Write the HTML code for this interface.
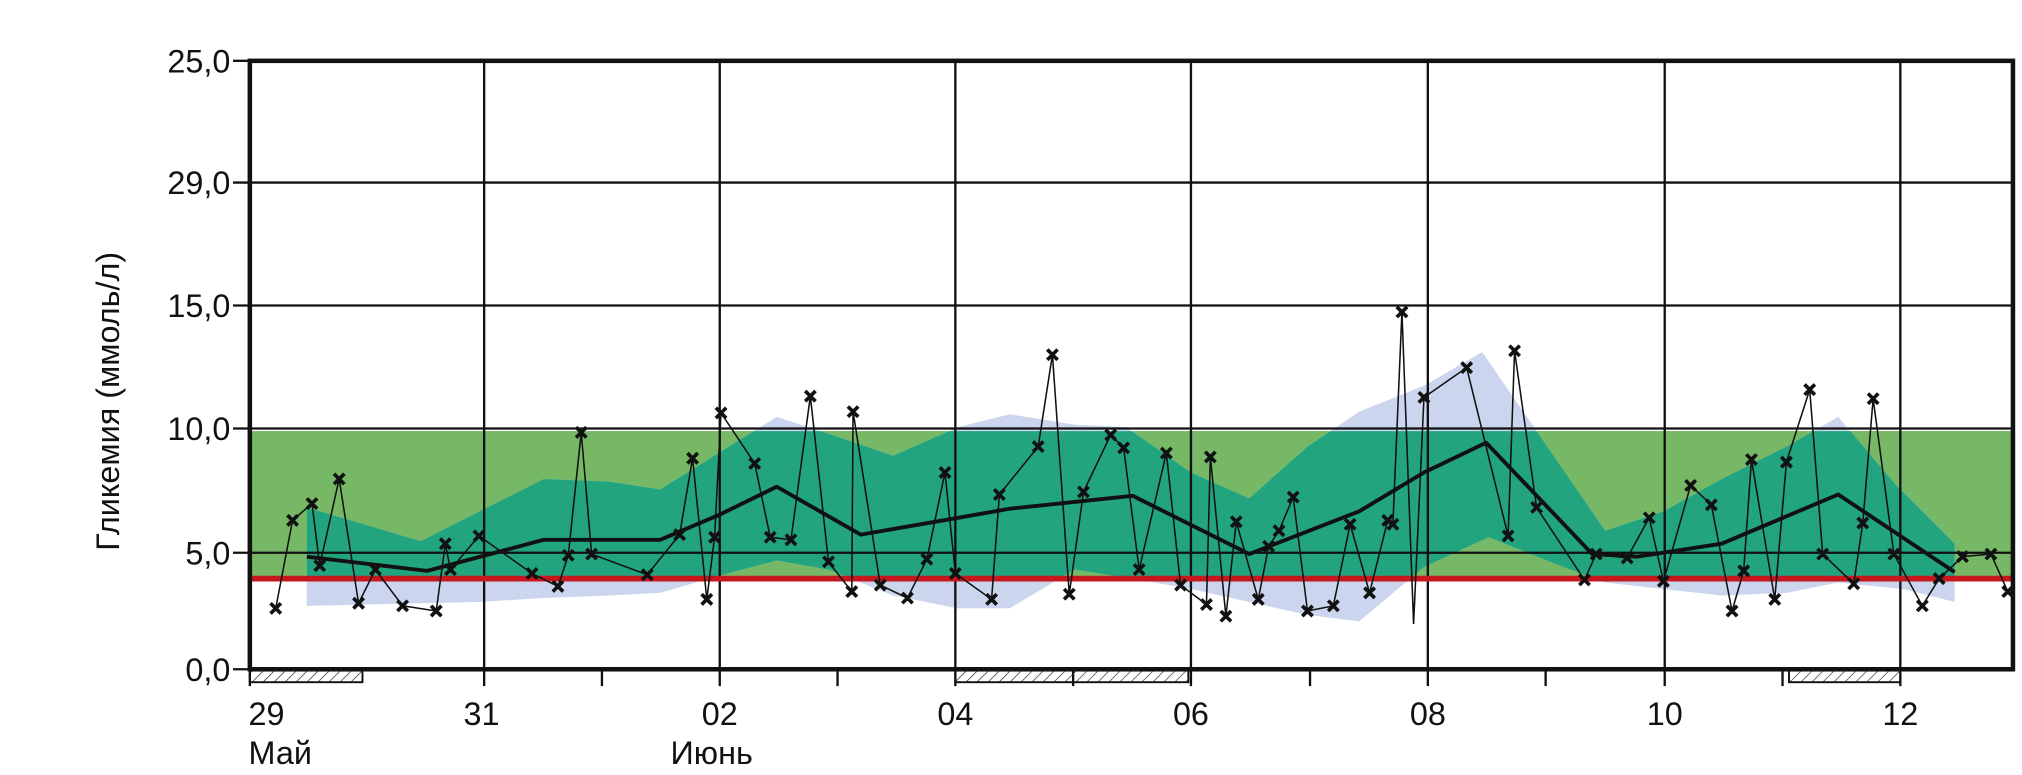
<!DOCTYPE html>
<html><head><meta charset="utf-8"><style>
html,body{margin:0;padding:0;background:#fff;}
svg{display:block;}
text{font-family:"Liberation Sans","DejaVu Sans",sans-serif;fill:#111;}
</style></head><body>
<svg width="2022" height="775" viewBox="0 0 2022 775" xmlns="http://www.w3.org/2000/svg">
<defs>
<pattern id="hatch" width="6" height="6" patternUnits="userSpaceOnUse" patternTransform="rotate(45)">
<line x1="0" y1="0" x2="0" y2="6" stroke="#222" stroke-width="1"/>
</pattern>
<clipPath id="gclip"><rect x="193" y="333" width="1362" height="114"/></clipPath>
</defs>
<g transform="scale(1.2945)">
<rect x="193" y="333" width="1362" height="114" fill="#77b866"/>
<polygon fill="#cbd6ee" points="237,392 325,418 420,370 470,372 510,378 555,350 600,322 640,335 690,352 740,330 780,320 830,328 870,330 920,365 965,385 1010,345 1050,318 1100,298 1145,272 1185,330 1240,410 1285,395 1330,370 1380,345 1420,322 1465,375 1510,420 1510,465 1470,455 1420,450 1380,458 1330,460 1285,455 1240,450 1200,435 1150,415 1100,438 1050,480 1010,475 965,465 920,455 875,447 830,440 780,470 740,470 690,460 640,440 600,433 555,445 510,458 470,460 420,462 370,465 325,466 237,468"/>
<g clip-path="url(#gclip)">
<polygon fill="#22a57f" points="237,392 325,418 420,370 470,372 510,378 555,350 600,322 640,335 690,352 740,330 780,320 830,328 870,330 920,365 965,385 1010,345 1050,318 1100,298 1145,272 1185,330 1240,410 1285,395 1330,370 1380,345 1420,322 1465,375 1510,420 1510,465 1470,455 1420,450 1380,458 1330,460 1285,455 1240,450 1200,435 1150,415 1100,438 1050,480 1010,475 965,465 920,455 875,447 830,440 780,470 740,470 690,460 640,440 600,433 555,445 510,458 470,460 420,462 370,465 325,466 237,468"/>
</g>
<g stroke="#111" stroke-width="1.8">
<line x1="180" y1="141" x2="1555" y2="141"/>
<line x1="180" y1="236" x2="1555" y2="236"/>
<line x1="180" y1="331" x2="1555" y2="331"/>
<line x1="180" y1="427" x2="1555" y2="427"/>
<line x1="180" y1="47" x2="193" y2="47"/>
<line x1="180" y1="517" x2="193" y2="517"/>
<line x1="374" y1="47" x2="374" y2="530"/>
<line x1="556" y1="47" x2="556" y2="530"/>
<line x1="738" y1="47" x2="738" y2="530"/>
<line x1="920" y1="47" x2="920" y2="530"/>
<line x1="1103" y1="47" x2="1103" y2="530"/>
<line x1="1286" y1="47" x2="1286" y2="530"/>
<line x1="1468" y1="47" x2="1468" y2="530"/>
<line x1="193" y1="517" x2="193" y2="530"/>
<line x1="465" y1="517" x2="465" y2="530"/>
<line x1="647" y1="517" x2="647" y2="530"/>
<line x1="829" y1="517" x2="829" y2="530"/>
<line x1="1012" y1="517" x2="1012" y2="530"/>
<line x1="1194" y1="517" x2="1194" y2="530"/>
<line x1="1377" y1="517" x2="1377" y2="530"/>
</g>
<g stroke="#111" stroke-width="1.5">
<rect x="193" y="518" width="87" height="9" fill="url(#hatch)"/>
<rect x="738" y="518" width="180" height="9" fill="url(#hatch)"/>
<rect x="1382" y="518" width="86" height="9" fill="url(#hatch)"/>
</g>
<line x1="193" y1="447" x2="1555" y2="447" stroke="#c8161d" stroke-width="4.5"/>
<polyline fill="none" stroke="#111" stroke-width="1.2" points="213,470 226,402 241,389 247,437 262,370 277,466 290,440 311,468 337,472 344,420 348,440 370,414 411,443 431,453 439,429 449,334 457,428 500,444 525,413 535,354 546,463 552,415 557,319 583,358 595,415 611,417 626,306 640,434 658,457 659,318 680,452 701,462 716,432 730,365 738,443 766,463 772,382 802,345 813,274 826,459 837,380 858,336 868,346 880,440 901,350 912,452 932,467 935,353 947,476 955,403 972,463 980,422 988,410 999,384 1010,472 1030,468 1043,405 1058,458 1072,402 1076,405 1083,241 1092,482 1100,307 1133,284 1165,414 1170,271 1187,392 1224,448 1233,428 1257,431 1274,400 1285,449 1306,375 1322,390 1338,472 1347,441 1353,355 1371,463 1380,357 1398,301 1408,428 1432,451 1439,404 1447,308 1463,428 1485,468 1498,447 1516,430 1538,428 1551,457"/>
<polyline fill="none" stroke="#111" stroke-width="3" stroke-linejoin="round" points="237,430 330,441 420,417 510,417 555,398 600,376 665,413 740,400 780,393 875,383 965,428 1050,395 1100,365 1148,342 1230,428 1265,430 1330,420 1420,382 1510,442"/>
<g id="mk" stroke="#111" stroke-width="2.8" fill="none"></g>
<rect x="193" y="47" width="1362" height="470" fill="none" stroke="#111" stroke-width="3.5"/>
<g font-size="25" text-anchor="end">
<text x="178" y="56">25,0</text>
<text x="178" y="150">29,0</text>
<text x="178" y="245">15,0</text>
<text x="178" y="340">10,0</text>
<text x="178" y="436">5,0</text>
<text x="178" y="526">0,0</text>
</g>
<text font-size="25" text-anchor="middle" transform="translate(92,310) rotate(-90)">Гликемия (ммоль/л)</text>
<g font-size="25">
<text x="192" y="560">29</text>
<text x="372" y="560" text-anchor="middle">31</text>
<text x="556" y="560" text-anchor="middle">02</text>
<text x="738" y="560" text-anchor="middle">04</text>
<text x="920" y="560" text-anchor="middle">06</text>
<text x="1103" y="560" text-anchor="middle">08</text>
<text x="1286" y="560" text-anchor="middle">10</text>
<text x="1468" y="560" text-anchor="middle">12</text>
<text x="192" y="590">Май</text>
<text x="518" y="590">Июнь</text>
</g>
</g>
<script>
(function(){
var pts="213,470 226,402 241,389 247,437 262,370 277,466 290,440 311,468 337,472 344,420 348,440 370,414 411,443 431,453 439,429 449,334 457,428 500,444 525,413 535,354 546,463 552,415 557,319 583,358 595,415 611,417 626,306 640,434 658,457 659,318 680,452 701,462 716,432 730,365 738,443 766,463 772,382 802,345 813,274 826,459 837,380 858,336 868,346 880,440 901,350 912,452 932,467 935,353 947,476 955,403 972,463 980,422 988,410 999,384 1010,472 1030,468 1043,405 1058,458 1072,402 1076,405 1083,241 1100,307 1133,284 1165,414 1170,271 1187,392 1224,448 1233,428 1257,431 1274,400 1285,449 1306,375 1322,390 1338,472 1347,441 1353,355 1371,463 1380,357 1398,301 1408,428 1432,451 1439,404 1447,308 1463,428 1485,468 1498,447 1516,430 1538,428 1551,457".split(" ");
var g=document.getElementById("mk"),d="";
pts.forEach(function(p){var a=p.split(",");var x=+a[0],y=+a[1],s=4;
d+="M"+(x-s)+" "+(y-s)+"L"+(x+s)+" "+(y+s)+"M"+(x-s)+" "+(y+s)+"L"+(x+s)+" "+(y-s);});
var path=document.createElementNS("http://www.w3.org/2000/svg","path");path.setAttribute("d",d);g.appendChild(path);
})();
</script>
</svg>
</body></html>
